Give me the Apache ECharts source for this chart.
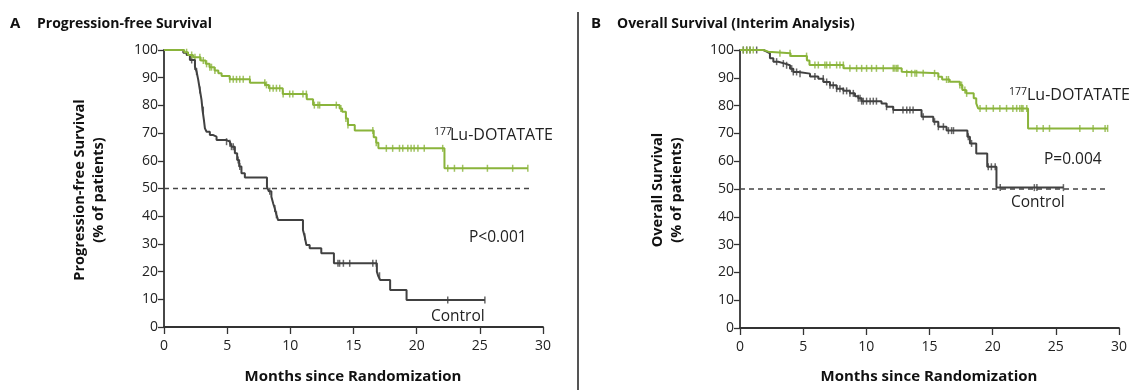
<!DOCTYPE html>
<html>
<head>
<meta charset="utf-8">
<script src="https://cdn.jsdelivr.net/npm/echarts@6/dist/echarts.min.js"></script>
<style>
  html, body { margin: 0; padding: 0; background: #fff; }
  #chart { width: 1142px; height: 390px; }
</style>
</head>
<body>
<div id="chart"></div>
<script>
// ---- data (months, % of patients) ----
// A: progression-free survival, step points [month, %]
var pfsLu = [[0,100],[1.6,99.2],[1.9,98.2],[2.3,97.4],[2.9,96.2],[3.3,95],[3.6,93.8],[4.0,92.6],[4.3,91.6],[4.56,90.6],
  [5.2,89.4],[6.8,88.2],[8.0,87.4],[8.3,86.2],[9.4,84.1],[11.3,82.2],[11.8,80.1],[13.9,78.9],[14.1,77.7],[14.4,75.3],
  [14.56,72.9],[15.1,70.9],[16.6,68.5],[16.8,66.5],[16.97,64.5],[22.2,57.3],[28.8,57.3]];
var pfsCtl = [[0,100],[1.53,99],[1.8,98.2],[2.05,96.4],[2.45,94],[2.58,92.2],[2.71,89.2],[2.84,85.6],[2.97,82],[3.05,78.3],
  [3.16,74.7],[3.24,71.7],[3.37,70.5],[3.63,69.3],[3.9,68.7],[4.16,67.5],[4.95,66.9],[5.21,66.3],[5.34,65.1],[5.61,62.7],
  [5.79,60.3],[5.95,57.9],[6.13,55.5],[6.4,54],[8.15,50.6],[8.3,49],[8.5,47],[8.65,44.5],[8.77,42.8],[8.9,40.5],[9.03,38.6],
  [11.0,35],[11.14,32.6],[11.27,29.6],[11.53,28.4],[12.45,26.6],[13.45,23],[16.85,20],[16.95,18.5],[17.1,17],[17.9,13.4],
  [19.2,9.75],[25.4,9.75]];
// censored times
var pfsLuCens = [1.79,2.19,2.45,2.84,3.11,3.37,3.63,3.76,4.03,5.21,5.48,5.74,6.0,6.27,6.79,7.98,8.11,8.37,8.64,8.9,9.16,9.43,
  9.95,10.2,11.0,11.27,11.9,12.19,12.32,13.64,14.0,14.4,14.56,16.53,16.8,17.6,18.1,18.64,18.9,19.3,19.56,19.8,20.1,20.6,
  22.06,22.46,22.99,23.64,25.6,27.6,28.8];
var pfsCtlCens = [2.19,2.45,2.58,2.84,3.11,4.95,5.21,5.34,5.48,5.87,6.0,8.37,8.77,8.9,11.14,13.77,13.9,14.2,14.7,16.53,16.8,
  17.06,22.46,25.4];

// B: overall survival
var osLu = [[0,100],[1.85,99.4],[2.24,98.8],[4.0,97.8],[5.3,96.2],[5.5,94.6],[8.2,93.4],[12.8,92.2],[12.9,91.6],[15.7,90.4],
  [16.0,89.4],[16.6,88.6],[17.4,87.4],[17.6,85.6],[17.9,84.4],[18.5,82.6],[18.7,80.8],[18.85,79],[22.8,71.8],[29.1,71.8]];
var osCtl = [[0,100],[1.85,99.4],[2.11,98.8],[2.37,97],[2.64,95.8],[3.03,95.1],[3.56,94.5],[3.96,93.3],[4.22,92.1],[4.62,91.5],
  [5.54,90.5],[6.2,89.7],[6.6,88.5],[7.12,87.3],[7.65,86.1],[8.18,85.3],[8.7,84.4],[9.1,83.4],[9.36,82.6],[9.63,81.6],
  [11.2,80.8],[11.6,79.6],[12.13,78.4],[14.37,76],[15.3,74.2],[15.7,72.4],[16.35,71],[18.0,68.8],[18.2,66.4],[18.7,62.8],
  [19.57,58],[20.3,50.5],[25.6,50.5]];
var osLuCens = [0.26,0.53,0.79,1.05,3.16,3.96,5.27,5.93,6.2,6.72,6.86,7.12,7.65,7.91,8.18,8.7,9.23,9.63,10.02,10.42,10.8,11.34,
  12.13,12.26,12.4,12.5,13.2,13.58,13.85,13.98,14.5,15.4,15.7,16.35,16.5,17.4,17.54,17.8,17.94,19.0,19.5,20.05,20.57,21.1,
  21.6,21.9,22.15,22.3,22.4,22.7,23.5,24.0,24.5,26.9,27.95,28.9,29.1];
var osCtlCens = [0.26,0.53,0.79,1.32,2.9,3.43,3.69,4.09,4.22,4.48,4.75,5.93,6.59,6.86,7.12,7.38,7.65,7.91,8.18,8.44,8.7,8.97,
  9.36,9.5,9.63,9.76,10.02,10.3,10.55,10.8,11.6,12.13,12.9,13.2,13.45,13.7,14.5,15.4,15.7,16.1,16.5,16.75,16.9,18.07,18.33,
  19.65,19.9,20.2,20.6,23.3,23.5,25.6];

var GREEN = '#8ab43b';
var DARK = '#414141';
var FONT = 'Open Sans';

// level of a step curve at a censored time
function levelAt(curve, t) {
  var v = curve[0][1];
  for (var i = 0; i < curve.length; i++) {
    if (curve[i][0] <= t + 1e-9) v = curve[i][1];
  }
  return v;
}
function censPoints(curve, times) {
  return times.map(function (t) { return [t, levelAt(curve, t)]; });
}

var chart = echarts.init(document.getElementById('chart'));

function xAxisFor(idx) {
  return {
    gridIndex: idx, type: 'value', min: 0, max: 30, interval: 5,
    axisLine: { lineStyle: { color: '#333', width: 1.8 } },
    axisTick: { length: 7, lineStyle: { color: '#333', width: 1.3 } },
    axisLabel: { color: '#222', fontSize: 14, fontFamily: FONT, margin: 12 },
    splitLine: { show: false }
  };
}
function yAxisFor(idx) {
  return {
    gridIndex: idx, type: 'value', min: 0, max: 100, interval: 10,
    axisLine: { show: true, lineStyle: { color: '#333', width: 1.8 } },
    axisTick: { show: true, length: 6, lineStyle: { color: '#333', width: 1.3 } },
    axisLabel: { color: '#222', fontSize: 14, fontFamily: FONT, margin: 6 },
    splitLine: { show: false }
  };
}
function stepSeries(name, idx, data, color) {
  return {
    name: name, type: 'line', xAxisIndex: idx, yAxisIndex: idx, step: 'end',
    data: data, showSymbol: false, symbol: 'none', silent: true,
    lineStyle: { color: color, width: 2 }
  };
}
function censSeries(name, idx, curve, times, color) {
  return {
    name: name, type: 'scatter', xAxisIndex: idx, yAxisIndex: idx,
    data: censPoints(curve, times), symbol: 'rect', symbolSize: [1.5, 7],
    itemStyle: { color: color }, silent: true
  };
}
function refLine(idx, xEnd) {
  return {
    type: 'line', xAxisIndex: idx, yAxisIndex: idx, data: [[0, 50], [xEnd, 50]],
    showSymbol: false, symbol: 'none', silent: true, z: 1,
    lineStyle: { color: '#444', width: 1.4, type: [5, 4] }
  };
}

var boldText = { fontFamily: FONT, fontWeight: 'bold', fill: '#111' };
function txt(x, y, s, size, extra) {
  var st = Object.assign({ text: s, fontSize: size, fontFamily: FONT, fill: '#222', verticalAlign: 'middle' }, extra || {});
  return { type: 'text', x: x, y: y, style: st };
}

chart.setOption({
  animation: false,
  grid: [
    { left: 164, top: 50, width: 379, height: 277 },
    { left: 740, top: 50, width: 379, height: 278 }
  ],
  xAxis: [xAxisFor(0), xAxisFor(1)],
  yAxis: [yAxisFor(0), yAxisFor(1)],
  series: [
    refLine(0, 29),
    stepSeries('pfsCtl', 0, pfsCtl, DARK),
    stepSeries('pfsLu', 0, pfsLu, GREEN),
    censSeries('pfsCtlC', 0, pfsCtl, pfsCtlCens, DARK),
    censSeries('pfsLuC', 0, pfsLu, pfsLuCens, GREEN),
    refLine(1, 29.1),
    stepSeries('osCtl', 1, osCtl, DARK),
    stepSeries('osLu', 1, osLu, GREEN),
    censSeries('osCtlC', 1, osCtl, osCtlCens, DARK),
    censSeries('osLuC', 1, osLu, osLuCens, GREEN)
  ],
  graphic: [
    // divider
    { type: 'line', shape: { x1: 578, y1: 12, x2: 578, y2: 390 }, style: { stroke: '#555', lineWidth: 2 } },
    // panel titles
    txt(10, 24, 'A', 15, boldText),
    txt(37, 24, 'Progression-free Survival', 14, boldText),
    txt(591, 24, 'B', 15, boldText),
    txt(617, 24, 'Overall Survival (Interim Analysis)', 14, boldText),
    // y-axis names (rotated)
    { type: 'text', x: 89, y: 190, rotation: Math.PI / 2,
      style: Object.assign({ text: 'Progression-free Survival\n(% of patients)', fontSize: 14.5, align: 'center',
        verticalAlign: 'middle', lineHeight: 19 }, boldText) },
    { type: 'text', x: 667, y: 190, rotation: Math.PI / 2,
      style: Object.assign({ text: 'Overall Survival\n(% of patients)', fontSize: 14.5, align: 'center',
        verticalAlign: 'middle', lineHeight: 19 }, boldText) },
    // x-axis names
    { type: 'text', x: 353, y: 377, style: Object.assign({ text: 'Months since Randomization', fontSize: 15,
        align: 'center', verticalAlign: 'middle' }, boldText) },
    { type: 'text', x: 929, y: 377, style: Object.assign({ text: 'Months since Randomization', fontSize: 15,
        align: 'center', verticalAlign: 'middle' }, boldText) },
    // annotations, panel A
    txt(434, 132, '177', 10.5),
    txt(450, 135, 'Lu-DOTATATE', 16),
    txt(469, 238, 'P<0.001', 15.5),
    txt(431, 317, 'Control', 15.5),
    // annotations, panel B
    txt(1009, 92, '177', 10.5),
    txt(1027, 95, 'Lu-DOTATATE', 16),
    txt(1044, 160, 'P=0.004', 15.5),
    txt(1011, 203, 'Control', 15.5)
  ]
});
</script>
</body>
</html>
